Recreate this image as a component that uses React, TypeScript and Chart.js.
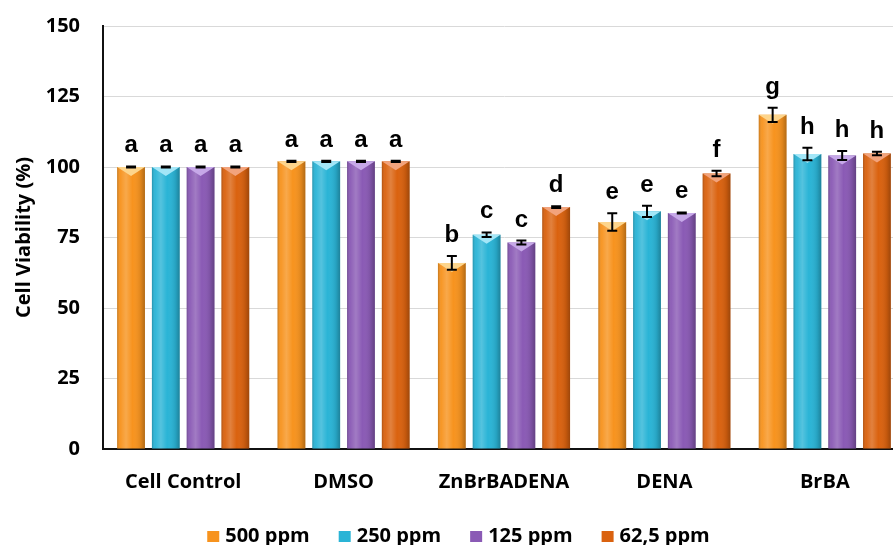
import React, { useEffect, useRef } from "react";
import { Chart, registerables } from "chart.js";

Chart.register(...registerables);

const categories = ["Cell Control", "DMSO", "ZnBrBADENA", "DENA", "BrBA"];
const seriesNames = ["500 ppm", "250 ppm", "125 ppm", "62,5 ppm"];

const values500 = [100, 102, 66, 80.5, 118.5];
const values250 = [100, 102, 76, 84.3, 104.6];
const values125 = [100, 102, 73.2, 83.7, 104.1];
const values62 = [100, 102, 85.8, 97.7, 104.8];

const err500 = [0.2, 0.2, 2.4, 3.1, 2.5];
const err250 = [0.2, 0.2, 0.8, 2.0, 2.2];
const err125 = [0.2, 0.2, 0.7, 0.2, 1.6];
const err62 = [0.2, 0.2, 0.3, 1.0, 0.6];

const letters500 = ["a", "a", "b", "e", "g"];
const letters250 = ["a", "a", "c", "e", "h"];
const letters125 = ["a", "a", "c", "e", "h"];
const letters62 = ["a", "a", "d", "f", "h"];

const yTicks = [0, 25, 50, 75, 100, 125, 150];

const baseColors = ["#F7931E", "#2AB4D6", "#8A5AB5", "#DA620F"];
const topColors = ["#FDD58C", "#A3E6F7", "#C6A8E8", "#F2A37C"];

const allValues = [values500, values250, values125, values62];
const allErrors = [err500, err250, err125, err62];
const allLetters = [letters500, letters250, letters125, letters62];

const AXIS_FONT = { family: "'Open Sans', sans-serif", size: 20, weight: "bold" as const };

const decorPlugin = {
  id: "decor",
  afterDatasetsDraw(chart: any) {
    const ctx = chart.ctx as CanvasRenderingContext2D;
    const ys = chart.scales.y;
    ctx.save();
    chart.data.datasets.forEach((ds: any, di: number) => {
      const meta = chart.getDatasetMeta(di);
      meta.data.forEach((bar: any, i: number) => {
        const { x, y: top, base, width } = bar.getProps(["x", "y", "base", "width"], true);
        const left = x - width / 2;
        const right = x + width / 2;
        const g = ctx.createLinearGradient(left, 0, right, 0);
        g.addColorStop(0, "rgba(0,0,0,0.20)");
        g.addColorStop(0.12, "rgba(255,255,255,0.04)");
        g.addColorStop(0.32, "rgba(255,255,255,0.20)");
        g.addColorStop(0.55, "rgba(255,255,255,0)");
        g.addColorStop(0.85, "rgba(0,0,0,0.10)");
        g.addColorStop(1, "rgba(0,0,0,0.28)");
        ctx.fillStyle = g;
        ctx.fillRect(left, top, width, base - top);
        ctx.beginPath();
        ctx.moveTo(left, top);
        ctx.lineTo(right, top);
        ctx.lineTo(x, top + 9);
        ctx.closePath();
        ctx.fillStyle = topColors[di];
        ctx.fill();

        const v = allValues[di][i];
        const e = allErrors[di][i];
        const eTop = ys.getPixelForValue(v + e);
        const eBot = ys.getPixelForValue(v - e);
        ctx.strokeStyle = "#000";
        ctx.lineWidth = 2;
        ctx.beginPath();
        ctx.moveTo(x, eTop);
        ctx.lineTo(x, eBot);
        ctx.moveTo(x - 5, eTop);
        ctx.lineTo(x + 5, eTop);
        ctx.moveTo(x - 5, eBot);
        ctx.lineTo(x + 5, eBot);
        ctx.stroke();

        ctx.fillStyle = "#000";
        ctx.font = "bold 24px 'Liberation Sans', Arial, sans-serif";
        ctx.textAlign = "center";
        ctx.textBaseline = "alphabetic";
        ctx.fillText(allLetters[di][i], x, eTop - 14);
      });
    });
    ctx.restore();
  },
  afterDraw(chart: any) {
    const ctx = chart.ctx as CanvasRenderingContext2D;
    ctx.save();
    ctx.font = "bold 20px 'Open Sans', sans-serif";
    const box = 12;
    const gap = 6;
    const spacing = 29;
    const widths = seriesNames.map((t) => box + gap + ctx.measureText(t).width);
    const total = widths.reduce((a, b) => a + b, 0) + spacing * (seriesNames.length - 1);
    let x = chart.width / 2 - total / 2;
    const baseline = chart.height - 3;
    seriesNames.forEach((t, k) => {
      ctx.fillStyle = baseColors[k];
      ctx.fillRect(x, baseline - 11, box, box - 1);
      ctx.fillStyle = "#000";
      ctx.textAlign = "left";
      ctx.textBaseline = "alphabetic";
      ctx.fillText(t, x + box + gap, baseline);
      x += widths[k] + spacing;
    });
    ctx.restore();
  },
};

export default function App() {
  const ref = useRef<HTMLCanvasElement>(null);

  useEffect(() => {
    if (!ref.current) return;
    const chart = new Chart(ref.current, {
      type: "bar",
      data: {
        labels: categories,
        datasets: seriesNames.map((name, k) => ({
          label: name,
          data: allValues[k],
          backgroundColor: baseColors[k],
          borderWidth: 0,
          categoryPercentage: 0.867,
          barPercentage: 0.8,
        })),
      },
      options: {
        responsive: false,
        animation: false,
        devicePixelRatio: 1,
        layout: { padding: { top: 26, left: 0, right: 0, bottom: 0 } },
        plugins: {
          legend: { display: false },
          tooltip: { enabled: false },
        },
        scales: {
          x: {
            grid: { display: false, drawTicks: false },
            border: { display: true, color: "#111", width: 2 },
            ticks: { color: "#000", font: AXIS_FONT, padding: 21, maxRotation: 0, autoSkip: false },
            afterFit: (s: any) => {
              s.height = 96;
            },
          },
          y: {
            min: 0,
            max: 150,
            afterBuildTicks: (s: any) => {
              s.ticks = yTicks.map((v) => ({ value: v }));
            },
            grid: { color: "#D9D9D9", lineWidth: 1, drawTicks: false },
            border: { display: true, color: "#111", width: 2 },
            ticks: { color: "#000", font: AXIS_FONT, padding: 23 },
            title: {
              display: true,
              text: "Cell Viability (%)",
              color: "#000",
              font: AXIS_FONT,
              padding: { top: 12, bottom: 0 },
            },
            afterFit: (s: any) => {
              s.width = 103;
              s.paddingTop = 0;
              s.paddingBottom = 0;
            },
          },
          yRight: {
            type: "linear",
            position: "right",
            display: true,
            grid: { display: false, drawTicks: false },
            border: { display: false },
            ticks: { display: false },
            afterFit: (s: any) => {
              s.width = 12;
            },
          },
        },
      },
      plugins: [decorPlugin],
    });
    return () => chart.destroy();
  }, []);

  return (
    <div
      style={{
        position: "fixed",
        left: 0,
        top: 0,
        width: 893,
        height: 545,
        overflow: "hidden",
        background: "#fff",
      }}
    >
      <canvas ref={ref} width={917} height={545} style={{ display: "block" }} />
    </div>
  );
}
